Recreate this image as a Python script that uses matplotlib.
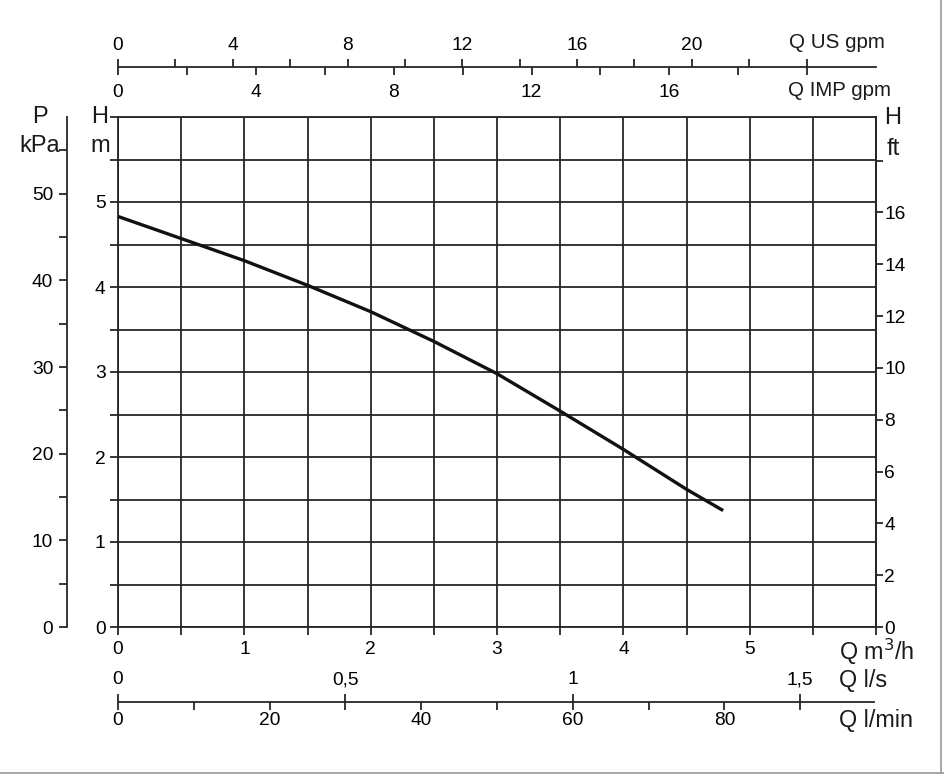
import matplotlib.pyplot as plt
from matplotlib.ticker import MultipleLocator, FuncFormatter
from matplotlib.lines import Line2D

plt.rcParams['font.family'] = ['Liberation Sans', 'DejaVu Sans']

# pump curve (flow in m3/h, head in m)
q_m3h = [0, 0.5, 1, 1.5, 2, 2.5, 3, 3.5, 4, 4.5, 4.79]
h_m = [4.83, 4.57, 4.31, 4.02, 3.71, 3.36, 2.98, 2.54, 2.09, 1.62, 1.37]

# secondary scale ticks
us_gpm_ticks = list(range(0, 25, 2))
us_gpm_labels = [0, 4, 8, 12, 16, 20]
imp_gpm_ticks = list(range(0, 21, 2))
imp_gpm_labels = [0, 4, 8, 12, 16]
ls_ticks = [0, 0.5, 1, 1.5]
ls_labels = ["0", "0,5", "1", "1,5"]
lmin_ticks = list(range(0, 91, 10))
lmin_labels = [0, 20, 40, 60, 80]
ft_ticks = list(range(0, 19, 2))
kpa_major = list(range(0, 51, 10))
kpa_minor = list(range(5, 56, 10))

# unit factors from m3/h
TO_US = 1000 / 60 / 3.78541
TO_IMP = 1000 / 60 / 4.54609
TO_LS = 1 / 3.6
TO_LMIN = 1000 / 60

W, H = 944, 774
L, R, T, B = 118, 876, 117, 627
C = '#262626'
LW = 1.3
TICK_FS = 13.8
TITLE_FS = 17

def fx(px):
    return px / W

def fy(py):
    return 1 - py / H

fig = plt.figure(figsize=(W / 100, H / 100), dpi=100)
ax = fig.add_axes([fx(L), fy(B), (R - L) / W, (B - T) / H])
ax.plot(q_m3h, h_m, color='#111111', lw=2.4, solid_capstyle='butt',
        solid_joinstyle='round', zorder=5)
ax.set_xlim(0, 6)
ax.set_ylim(0, 6)
ax.xaxis.set_major_locator(MultipleLocator(0.5))
ax.yaxis.set_major_locator(MultipleLocator(0.5))
int_fmt = FuncFormatter(lambda v, p: f"{v:g}" if float(v).is_integer() and v < 5.9 else "")
ax.xaxis.set_major_formatter(int_fmt)
ax.yaxis.set_major_formatter(int_fmt)
ax.grid(True, color=C, lw=LW)
for s in ax.spines.values():
    s.set_color(C)
    s.set_linewidth(LW)
ax.tick_params(axis='x', length=6, width=LW, color=C, labelsize=TICK_FS, pad=4)
ax.tick_params(axis='y', length=6, width=LW, color=C, labelsize=TICK_FS, pad=3)

# H ft on the right
ax_ft = ax.twinx()
ax_ft.set_ylim(0, 6 / 0.3048)
ax_ft.set_yticks(ft_ticks)
ax_ft.set_yticklabels([str(t) if t < 18 else "" for t in ft_ticks])
ax_ft.tick_params(axis='y', length=5, width=LW, color=C, labelsize=TICK_FS, pad=1)
for name, s in ax_ft.spines.items():
    s.set_visible(name == 'right')
    s.set_color(C)
    s.set_linewidth(LW)

# P kPa on the far left
ax_kpa = ax.twinx()
ax_kpa.set_ylim(0, 6 * 9.81)
ax_kpa.yaxis.set_ticks_position('left')
ax_kpa.yaxis.set_label_position('left')
ax_kpa.spines['left'].set_position(('axes', -(L - 67) / (R - L)))
for name, s in ax_kpa.spines.items():
    s.set_visible(name == 'left')
    s.set_color(C)
    s.set_linewidth(LW)
ax_kpa.set_yticks(kpa_major)
ax_kpa.set_yticks(kpa_minor, minor=True)
ax_kpa.tick_params(axis='y', which='major', length=6, width=LW, color=C, labelsize=TICK_FS, pad=4)
ax_kpa.tick_params(axis='y', which='minor', length=6, width=LW, color=C)


def scale_line(py, factor, ticks, labels, side, pad, end_px=R, spine=False):
    a = fig.add_axes([fx(L), fy(py), (R - L) / W, 0.00001])
    a.set_xlim(0, 6 * factor)
    a.set_yticks([])
    a.patch.set_visible(False)
    for name, s in a.spines.items():
        s.set_visible(spine and name == 'bottom')
        s.set_color(C)
        s.set_linewidth(LW)
    a.spines['bottom'].set_bounds(0, (end_px - L) / (R - L) * 6 * factor)
    a.set_xticks(ticks)
    a.set_xticklabels([str(t) if t in labels else "" for t in ticks])
    if side == 'top':
        a.tick_params(axis='x', bottom=False, top=True, labelbottom=False, labeltop=True)
    a.tick_params(axis='x', length=6, width=LW, color=C, labelsize=TICK_FS, pad=pad)
    return a


scale_line(67, TO_US, us_gpm_ticks, us_gpm_labels, 'top', 3, spine=True)
scale_line(67, TO_IMP, imp_gpm_ticks, imp_gpm_labels, 'bottom', 6.5)
a_ls = scale_line(702, TO_LS, ls_ticks, ls_ticks, 'top', 4, end_px=874, spine=True)
a_ls.set_xticklabels(ls_labels)
scale_line(702, TO_LMIN, lmin_ticks, lmin_labels, 'bottom', 1.5, end_px=874)

# unit titles
def label(x, y, s, ha='left', size=TITLE_FS):
    fig.text(fx(x), fy(y), s, ha=ha, va='center', fontsize=size, color='#1a1a1a')

label(885, 43, "Q US gpm", ha='right', size=14.8)
label(891, 91, "Q IMP gpm", ha='right', size=14.8)
label(839, 652, "Q m$^3$/h", size=16.8)
label(839, 680, "Q l/s", size=16.8)
label(839, 720, "Q l/min", size=16.8)
label(40, 117, "P", ha='center')
label(40, 146, "kPa", ha='center')
label(100, 117, "H", ha='center')
label(100, 146, "m", ha='center')
label(893, 118, "H", ha='center')
label(893, 149, "ft", ha='center')

# image frame on the right and bottom
fig.add_artist(Line2D([fx(941), fx(941)], [0, 1], color='#9a9a9a', lw=1.2))
fig.add_artist(Line2D([0, 1], [fy(772.5), fy(772.5)], color='#9a9a9a', lw=1.2))

fig.savefig('out.png', dpi=100)
